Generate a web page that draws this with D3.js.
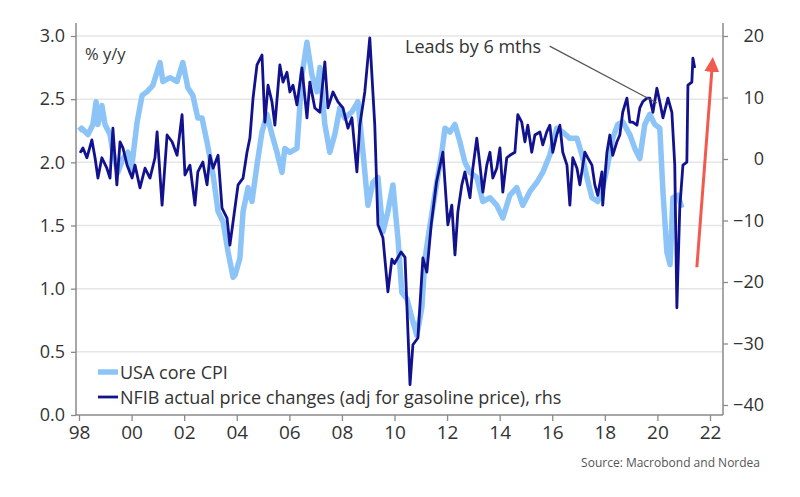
<!DOCTYPE html>
<html>
<head>
<meta charset="utf-8">
<style>
    body { margin:0; background:#fff; }
    svg text { font-family:"Open Sans", sans-serif; fill:#333; }
    .grid line { stroke:#e6e6e6; stroke-width:1.5px; }
    .axisline { stroke:#8a8a8a; stroke-width:1.5px; }
    .axis path { display:none; }
    .axis line { stroke:#8a8a8a; stroke-width:1.3px; }
    .axis text { fill:#333; }
    path.cpi { fill:none; stroke:#8cc4f7; stroke-width:5.5px; stroke-linejoin:round; }
    path.nfib { fill:none; stroke:#12128f; stroke-width:2.8px; stroke-linejoin:round; }
</style>
<script src="https://cdn.jsdelivr.net/npm/d3@7"></script>
</head>
<body>
<script>
// USA core CPI, % y/y (left axis)
const cpiYear = [1998.0,1998.1,1998.34,1998.53,1998.65,1998.72,1998.87,1998.99,1999.18,1999.29,1999.48,1999.67,1999.86,1999.98,
    2000.21,2000.4,2000.59,2000.81,2001.08,2001.19,2001.46,2001.73,2001.95,2002.14,2002.33,2002.52,2002.68,2002.87,
    2003.1,2003.29,2003.48,2003.67,2003.86,2003.94,2004.12,2004.24,2004.43,2004.58,2004.77,2004.96,2005.15,2005.34,
    2005.53,2005.72,2005.83,2006.02,2006.29,2006.48,2006.67,2006.86,2007.05,2007.16,2007.35,2007.54,2007.73,2007.92,
    2008.11,2008.38,2008.61,2008.8,2008.99,2009.18,2009.37,2009.56,2009.75,2009.94,2010.13,2010.28,2010.47,2010.66,
    2010.85,2011.04,2011.16,2011.35,2011.61,2011.8,2011.92,2012.11,2012.3,2012.49,2012.68,2012.87,2013.13,2013.36,
    2013.63,2013.89,2014.12,2014.39,2014.65,2014.88,2015.15,2015.41,2015.64,2015.91,2016.17,2016.4,2016.67,2016.94,
    2017.13,2017.32,2017.51,2017.73,2017.92,2018.11,2018.3,2018.49,2018.68,2018.95,2019.14,2019.33,2019.52,2019.71,
    2019.9,2020.09,2020.21,2020.36,2020.48,2020.59,2020.78,2020.93];
const cpiValue = [2.25,2.27,2.22,2.3,2.48,2.3,2.45,2.3,2.22,2.08,1.92,2.03,2.08,1.92,
    2.32,2.53,2.56,2.61,2.79,2.64,2.67,2.64,2.79,2.59,2.53,2.35,2.35,2.16,
    1.9,1.61,1.53,1.29,1.09,1.11,1.24,1.61,1.8,1.69,1.98,2.24,2.38,2.22,
    2.08,1.92,2.11,2.08,2.11,2.69,2.95,2.69,2.56,2.75,2.3,2.08,2.22,2.43,
    2.35,2.4,2.48,2.08,1.66,1.84,1.88,1.45,1.61,1.82,1.4,0.97,0.92,0.77,
    0.63,0.85,1.24,1.5,1.84,2.08,2.27,2.24,2.3,2.16,2.0,1.92,1.88,1.69,
    1.72,1.66,1.56,1.74,1.8,1.66,1.77,1.84,1.92,2.06,2.27,2.24,2.19,2.19,
    2.06,1.88,1.72,1.69,1.8,1.98,2.19,2.3,2.32,2.22,2.11,2.03,2.3,2.38,
    2.3,2.27,1.77,1.29,1.19,1.72,1.74,1.64];

// NFIB actual price changes adj for gasoline price (right axis)
const nfibYear = [1998.04,1998.15,1998.3,1998.49,1998.61,1998.72,1998.87,1999.06,1999.18,1999.29,1999.44,1999.56,1999.67,1999.83,
    2000.02,2000.13,2000.32,2000.51,2000.7,2000.89,2000.97,2001.16,2001.35,2001.54,2001.73,2001.92,2002.03,2002.22,
    2002.41,2002.52,2002.71,2002.87,2002.98,2003.1,2003.29,2003.44,2003.63,2003.74,2003.86,2004.05,2004.24,2004.39,
    2004.5,2004.62,2004.77,2004.96,2005.07,2005.19,2005.34,2005.45,2005.64,2005.76,2005.91,2006.02,2006.14,2006.29,
    2006.48,2006.67,2006.78,2006.97,2007.16,2007.35,2007.47,2007.66,2007.85,2008.04,2008.23,2008.38,2008.57,2008.68,
    2008.87,2009.06,2009.25,2009.37,2009.56,2009.75,2009.9,2010.0,2010.25,2010.4,2010.59,2010.7,2010.89,2011.08,
    2011.23,2011.4,2011.6,2011.84,2012.03,2012.18,2012.3,2012.41,2012.56,2012.68,2012.87,2012.98,2013.13,2013.25,
    2013.36,2013.51,2013.63,2013.74,2013.89,2014.01,2014.12,2014.27,2014.39,2014.58,2014.69,2014.84,2014.96,2015.07,
    2015.22,2015.34,2015.53,2015.64,2015.79,2015.91,2016.02,2016.17,2016.29,2016.4,2016.56,2016.67,2016.78,2016.94,
    2017.05,2017.24,2017.35,2017.51,2017.62,2017.73,2017.89,2017.92,2018.08,2018.19,2018.3,2018.46,2018.57,2018.68,
    2018.84,2018.95,2019.06,2019.22,2019.33,2019.44,2019.6,2019.71,2019.83,2019.98,2020.09,2020.21,2020.4,2020.55,
    2020.66,2020.74,2020.85,2020.97,2021.12,2021.16,2021.31,2021.35,2021.42];
const nfibValue = [1.0,1.8,0.2,3.1,0.2,-3.1,0.2,-1.5,-3.1,5.0,-4.2,2.8,1.8,-1.0,
    -3.1,-1.0,-4.7,-1.5,-3.1,0.2,4.4,-7.5,3.9,2.8,0.6,7.2,-2.6,-1.0,
    -7.5,-2.1,-0.5,-4.2,0.6,-1.5,0.6,-8.0,-9.6,-14.0,-10.2,-4.2,-3.1,1.1,
    3.4,9.9,15.3,16.9,6.0,12.0,9.3,5.5,15.3,12.5,14.1,10.9,12.0,8.8,
    14.8,6.7,12.5,8.3,7.6,15.8,8.3,10.9,9.3,8.3,5.0,6.7,-2.1,5.5,
    10.9,19.7,5.5,-10.7,-12.8,-21.6,-16.3,-17.0,-15.1,-16.0,-36.7,-30.2,-29.1,-16.1,
    -18.4,-10.5,-3.7,1.1,-10.7,-7.5,-15.6,-8.6,-4.2,-2.1,-6.3,-1.5,3.4,-1.0,
    -5.4,-1.0,1.1,-3.1,-1.5,1.8,-5.4,0.2,0.6,1.1,7.2,6.0,2.8,5.5,
    1.1,3.9,4.4,2.3,4.4,5.5,1.1,3.9,5.5,1.1,-1.0,-7.5,0.2,-1.5,
    -4.2,1.1,0.2,-1.0,-4.2,-5.9,-2.1,-7.5,1.1,3.9,0.6,2.8,3.9,7.6,
    9.9,6.0,6.0,5.5,8.3,9.3,9.9,9.9,7.6,11.5,9.3,6.7,9.9,7.6,
    -1.0,-24.2,-8.0,-1.0,-0.5,12.0,12.5,16.4,14.8];

const xTicks = [1998,2000,2002,2004,2006,2008,2010,2012,2014,2016,2018,2020,2022];
const leftTicks = [0,0.5,1.0,1.5,2.0,2.5,3.0];
const rightTicks = [-40,-30,-20,-10,0,10,20];

// annotation anchors in data units
const leadLine = {from:[2015.9, 2.92], to:[2019.98, 2.47]};
const redArrow = {from:[2021.5, -17.6], to:[2022.11, 16.6]};

const svg = d3.select('body').append('svg')
    .attr('width', 800)
    .attr('height', 497);

const plotL = 76, plotR = 723, plotB = 415, plotT = 23;

let x = d3.scaleLinear().domain([1998, 2022]).range([79, 710]);
let yL = d3.scaleLinear().domain([0, 3]).range([415, 36]);
let yR = d3.scaleLinear().domain([-40, 20]).range([405, 36]);

// gridlines
svg.append('g').attr('class', 'grid')
    .selectAll('line').data(leftTicks.filter(d => d > 0)).join('line')
    .attr('x1', plotL).attr('x2', plotR)
    .attr('y1', d => yL(d)).attr('y2', d => yL(d));

// frame lines
svg.append('line').attr('class', 'axisline').attr('x1', plotL).attr('x2', plotL).attr('y1', plotT).attr('y2', plotB);
svg.append('line').attr('class', 'axisline').attr('x1', plotR).attr('x2', plotR).attr('y1', plotT).attr('y2', plotB);
svg.append('line').attr('class', 'axisline').attr('x1', plotL).attr('x2', plotR).attr('y1', plotB).attr('y2', plotB);

// axes
let xAxis = svg.append('g').attr('class', 'axis')
    .attr('transform', 'translate(0,' + plotB + ')')
    .call(d3.axisBottom(x).tickValues(xTicks).tickSize(6).tickPadding(5)
        .tickFormat(d => String(d % 100).padStart(2, '0')));
xAxis.selectAll('text').style('font-size', '19px');

let lAxis = svg.append('g').attr('class', 'axis')
    .attr('transform', 'translate(' + plotL + ',0)')
    .call(d3.axisLeft(yL).tickValues(leftTicks).tickSize(5).tickPadding(6).tickFormat(d3.format('.1f')));
lAxis.selectAll('text').style('font-size', '18px');

let rAxis = svg.append('g').attr('class', 'axis')
    .attr('transform', 'translate(' + plotR + ',0)')
    .call(d3.axisRight(yR).tickValues(rightTicks).tickSize(5).tickFormat(d3.format('d')));
rAxis.selectAll('text').style('font-size', '18px').attr('text-anchor', 'end').attr('x', 41);

// series
let cpi = cpiYear.map((t, i) => [t, cpiValue[i]]);
let nfib = nfibYear.map((t, i) => [t, nfibValue[i]]);

let lineL = d3.line().x(d => x(d[0])).y(d => yL(d[1]));
let lineR = d3.line().x(d => x(d[0])).y(d => yR(d[1]));

svg.append('path').attr('class', 'cpi').attr('d', lineL(cpi));
svg.append('path').attr('class', 'nfib').attr('d', lineR(nfib));

// unit label
svg.append('text').attr('x', 85).attr('y', 60).style('font-size', '16.5px').text('% y/y');

// lead annotation
svg.append('text').attr('x', 405).attr('y', 53).style('font-size', '18px').text('Leads by 6 mths');
svg.append('line')
    .attr('x1', x(leadLine.from[0])).attr('y1', yL(leadLine.from[1]))
    .attr('x2', x(leadLine.to[0])).attr('y2', yL(leadLine.to[1]))
    .attr('stroke', '#555').attr('stroke-width', 1.2);

// red arrow
svg.append('defs').append('marker')
    .attr('id', 'head').attr('viewBox', '0 0 10 10')
    .attr('refX', 2).attr('refY', 5)
    .attr('markerWidth', 5).attr('markerHeight', 5)
    .attr('orient', 'auto')
    .append('path').attr('d', 'M0,0 L10,5 L0,10 z').attr('fill', '#f25a50');
let ax1 = x(redArrow.from[0]), ay1 = yR(redArrow.from[1]);
let ax2 = x(redArrow.to[0]), ay2 = yR(redArrow.to[1]);
let len = Math.hypot(ax2 - ax1, ay2 - ay1);
svg.append('line')
    .attr('x1', ax1).attr('y1', ay1)
    .attr('x2', ax2 - (ax2 - ax1) / len * 12).attr('y2', ay2 - (ay2 - ay1) / len * 12)
    .attr('stroke', '#f25a50').attr('stroke-width', 3)
    .attr('marker-end', 'url(#head)');

// legend
let legend = svg.append('g');
legend.append('line').attr('x1', 98).attr('x2', 118).attr('y1', 372).attr('y2', 372)
    .attr('stroke', '#8cc4f7').attr('stroke-width', 5.5);
legend.append('text').attr('x', 120).attr('y', 378.5).style('font-size', '18px').text('USA core CPI');
legend.append('line').attr('x1', 98).attr('x2', 118).attr('y1', 397).attr('y2', 397)
    .attr('stroke', '#12128f').attr('stroke-width', 2.8);
legend.append('text').attr('x', 120).attr('y', 403.5).style('font-size', '18px')
    .text('NFIB actual price changes (adj for gasoline price), rhs');

// source
svg.append('text').attr('x', 760).attr('y', 467).attr('text-anchor', 'end')
    .style('font-size', '12px').style('fill', '#555')
    .text('Source: Macrobond and Nordea');
</script>
</body>
</html>
